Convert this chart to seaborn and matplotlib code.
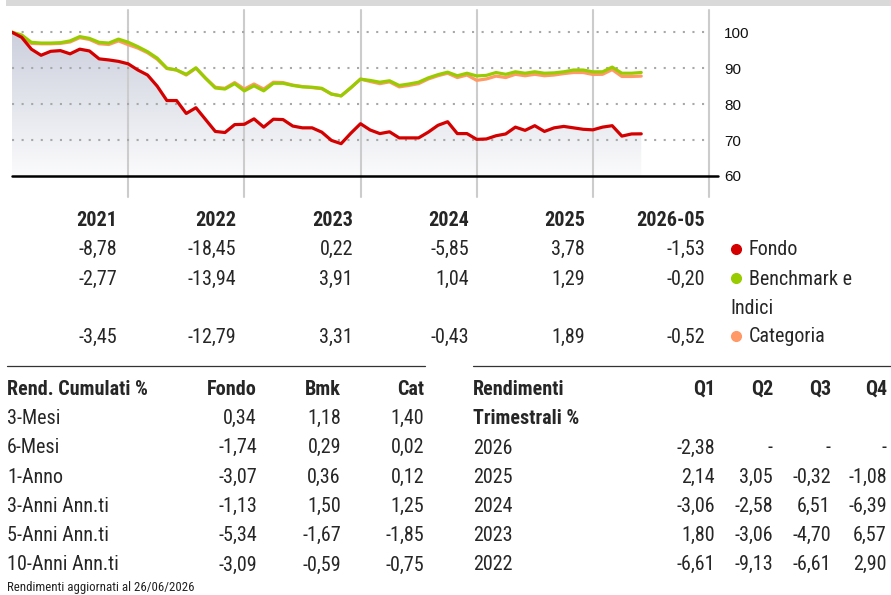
import numpy as np
import pandas as pd
import matplotlib
matplotlib.use("Agg")
import matplotlib.pyplot as plt
import seaborn as sns
from matplotlib.colors import LinearSegmentedColormap
from matplotlib.patches import Rectangle
from matplotlib.lines import Line2D
from matplotlib import font_manager

# ---------------------------------------------------------------- data
# monthly growth of 100 invested, Dec 2020 .. May 2026
fondo = [100.0, 98.6, 95.3, 93.6, 94.7, 94.9, 94.0, 95.3, 94.8, 92.6, 92.3, 91.9,
         91.22, 89.5, 88.1, 85.0, 81.0, 81.0, 77.4, 79.0, 75.7, 72.4, 72.1, 74.3,
         74.39, 75.9, 73.6, 75.8, 75.7, 73.9, 73.4, 73.4, 72.2, 69.9, 69.0, 71.9,
         74.55, 72.8, 71.8, 72.3, 70.6, 70.6, 70.6, 72.2, 74.1, 75.1, 71.8, 71.8,
         70.19, 70.3, 71.2, 71.7, 73.6, 72.7, 74.0, 72.4, 73.4, 73.8, 73.4, 73.0,
         72.84, 73.6, 74.0, 71.1, 71.7, 71.73]
benchmark = [100.0, 99.25, 97.2, 97.0, 97.0, 97.1, 97.6, 98.8, 98.3, 97.2, 97.0, 98.1,
             97.23, 96.0, 94.6, 92.8, 90.0, 89.5, 88.3, 90.1, 87.2, 84.5, 84.2, 85.7,
             83.68, 85.1, 83.7, 85.8, 85.8, 85.2, 84.8, 84.7, 84.4, 82.8, 82.3, 84.6,
             86.95, 86.6, 86.1, 86.5, 85.2, 85.6, 86.1, 87.3, 88.2, 88.9, 87.9, 88.6,
             87.85, 88.0, 88.8, 88.3, 89.0, 88.6, 89.0, 88.6, 88.7, 89.0, 89.5, 89.5,
             88.99, 89.0, 90.3, 88.6, 88.6, 88.81]
categoria = [100.0, 99.0, 96.9, 96.8, 96.8, 96.9, 97.3, 98.5, 98.0, 96.8, 96.6, 97.6,
             96.55, 95.6, 94.3, 92.5, 89.9, 89.5, 88.1, 90.0, 87.2, 84.7, 84.4, 86.0,
             84.20, 85.6, 84.2, 86.1, 86.0, 85.3, 84.9, 84.6, 84.3, 82.8, 82.3, 84.5,
             86.99, 86.3, 85.7, 86.2, 84.8, 85.2, 85.7, 87.0, 87.9, 88.6, 87.4, 88.1,
             86.62, 87.0, 87.8, 87.4, 88.3, 87.9, 88.3, 87.9, 88.1, 88.5, 88.8, 88.8,
             88.26, 88.3, 89.6, 87.7, 87.7, 87.80]

periods = ["2021", "2022", "2023", "2024", "2025", "2026-05"]
annual_fondo = [-8.78, -18.45, 0.22, -5.85, 3.78, -1.53]
annual_bmk = [-2.77, -13.94, 3.91, 1.04, 1.29, -0.20]
annual_cat = [-3.45, -12.79, 3.31, -0.43, 1.89, -0.52]

cum_labels = ["3-Mesi", "6-Mesi", "1-Anno", "3-Anni Ann.ti", "5-Anni Ann.ti", "10-Anni Ann.ti"]
cum_fondo = [0.34, -1.74, -3.07, -1.13, -5.34, -3.09]
cum_bmk = [1.18, 0.29, 0.36, 1.50, -1.67, -0.59]
cum_cat = [1.40, 0.02, 0.12, 1.25, -1.85, -0.75]

q_years = ["2026", "2025", "2024", "2023", "2022"]
q1 = [-2.38, 2.14, -3.06, 1.80, -6.61]
q2 = [None, 3.05, -2.58, -3.06, -9.13]
q3 = [None, -0.32, 6.51, -4.70, -6.61]
q4 = [None, -1.08, -6.39, 6.57, 2.90]

series_names = ["Fondo", "Benchmark e Indici", "Categoria"]
colors = {"Fondo": "#d40000", "Benchmark e Indici": "#99cc00", "Categoria": "#ff9966"}

# ---------------------------------------------------------------- setup
sns.set_theme(style="white")
names = {f.name for f in font_manager.fontManager.ttflist}
NARROW = next((n for n in ["Roboto Condensed", "Liberation Sans Narrow", "Archivo Narrow"]
               if n in names), "DejaVu Sans")
plt.rcParams["font.family"] = ["Liberation Sans", "DejaVu Sans"]

W, H = 891, 595
fig = plt.figure(figsize=(W / 100, H / 100), dpi=100)
fig.patch.set_facecolor("white")


def fx(x):
    return x / W


def fy(y):
    return 1 - y / H


def fmt(v):
    return "-" if v is None else f"{v:.2f}".replace(".", ",")


# top band
fig.patches.append(Rectangle((fx(6), fy(5.5)), 1 - fx(6), 5.5 / H,
                             transform=fig.transFigure, facecolor="#d9d9d9",
                             edgecolor="none"))

# ---------------------------------------------------------------- chart
ax = fig.add_axes([fx(12), fy(197), (709 - 12) / W, 187 / H])
ax.set_facecolor("none")
t = 2021 + np.arange(len(fondo)) / 12.0

df = pd.DataFrame({
    "t": np.concatenate([t, t, t]),
    "valore": np.concatenate([fondo, benchmark, categoria]),
    "serie": np.repeat(series_names, len(t)),
})

# gradient area below the fund line
poly = ax.fill_between(t, fondo, 60, facecolor="none", edgecolor="none")
cmap = LinearSegmentedColormap.from_list("area", ["#fbfbfc", "#ccd0dd"])
grad = np.linspace(0, 1, 256).reshape(-1, 1)
im = ax.imshow(grad, extent=[t[0], t[-1], 60, 100], origin="lower", cmap=cmap,
               aspect="auto", zorder=0.5, interpolation="bicubic")
im.set_clip_path(poly.get_paths()[0], transform=ax.transData)

# year separators
for yr in range(2022, 2028):
    ax.axvline(yr, color="#cccccc", lw=1.5, zorder=1, clip_on=False)

# dotted grid
for lv in [70, 80, 90, 100]:
    ax.plot([2021, 2026.97], [lv, lv], color="#a8a8a8", lw=1.5,
            dashes=(1, 3.6), dash_capstyle="butt", zorder=1)

sns.lineplot(data=df, x="t", y="valore", hue="serie",
             hue_order=["Categoria", "Benchmark e Indici", "Fondo"],
             palette=colors, linewidth=2.3, legend=False, ax=ax, zorder=3)

# baseline at 60
ax.add_line(Line2D([2021, 2027.08], [60, 60], color="black", lw=1.8,
                   clip_on=False, zorder=4))

ax.set_xlim(2021, 2027)
ax.set_ylim(54.15, 106.2)
ax.set_xticks([])
ax.yaxis.tick_right()
ax.set_yticks([60, 70, 80, 90, 100])
ax.tick_params(axis="y", length=0, pad=10.8, labelsize=11, labelcolor="#111111")
ax.set_xlabel("")
ax.set_ylabel("")
for s in ax.spines.values():
    s.set_visible(False)

# ---------------------------------------------------------------- annual table
FS = 14.5
col_right = [117, 236, 353, 469, 585, 705]
for x, p in zip(col_right, periods):
    fig.text(fx(x), fy(226.5), p, ha="right", va="baseline", fontsize=FS,
             fontweight="bold", family=NARROW)
rows = [(255, annual_fondo), (284.5, annual_bmk), (342.5, annual_cat)]
for yb, vals in rows:
    for x, v in zip(col_right, vals):
        fig.text(fx(x), fy(yb), fmt(v), ha="right", va="baseline", fontsize=FS,
                 family=NARROW)

legend_rows = [(255, "Fondo"), (284.5, "Benchmark e"), (342.5, "Categoria")]
for (yb, label), key in zip(legend_rows, series_names):
    fig.add_artist(Line2D([fx(736)], [fy(yb - 6.5)], marker="o", markersize=7,
                          color=colors[key], transform=fig.transFigure, lw=0))
    fig.text(fx(749), fy(yb), label, ha="left", va="baseline", fontsize=FS,
             family=NARROW)
fig.text(fx(730), fy(313.5), "Indici", ha="left", va="baseline", fontsize=FS,
         family=NARROW)

# ---------------------------------------------------------------- cumulative table
fig.add_artist(Line2D([fx(6.7), fx(425)], [fy(366), fy(366)], color="#333333",
                      lw=0.9, transform=fig.transFigure))
fig.text(fx(7), fy(395), "Rend. Cumulati %", ha="left", va="baseline",
         fontsize=FS, fontweight="bold", family=NARROW)
cum_cols = [("Fondo", 257, cum_fondo), ("Bmk", 341, cum_bmk), ("Cat", 424.5, cum_cat)]
for head, x, vals in cum_cols:
    fig.text(fx(x), fy(395), head, ha="right", va="baseline", fontsize=FS,
             fontweight="bold", family=NARROW)
    for i, v in enumerate(vals):
        fig.text(fx(x), fy(424 + i * 29.3), fmt(v), ha="right", va="baseline",
                 fontsize=FS, family=NARROW)
for i, lab in enumerate(cum_labels):
    fig.text(fx(7), fy(424 + i * 29.3), lab, ha="left", va="baseline",
             fontsize=FS, family=NARROW)
fig.text(fx(7), fy(591), "Rendimenti aggiornati al 26/06/2026", ha="left",
         va="baseline", fontsize=9.3, family=NARROW, color="#222222")

# ---------------------------------------------------------------- quarterly table
fig.add_artist(Line2D([fx(472.7), fx(891)], [fy(366), fy(366)], color="#333333",
                      lw=0.9, transform=fig.transFigure))
fig.text(fx(473), fy(395), "Rendimenti", ha="left", va="baseline", fontsize=FS,
         fontweight="bold", family=NARROW)
fig.text(fx(473), fy(424), "Trimestrali %", ha="left", va="baseline", fontsize=FS,
         fontweight="bold", family=NARROW)
q_cols = [("Q1", 715, q1), ("Q2", 773, q2), ("Q3", 831, q3), ("Q4", 887, q4)]
for head, x, vals in q_cols:
    fig.text(fx(x), fy(395), head, ha="right", va="baseline", fontsize=FS,
             fontweight="bold", family=NARROW)
    for i, v in enumerate(vals):
        fig.text(fx(x), fy(453.5 + i * 29.1), fmt(v), ha="right", va="baseline",
                 fontsize=FS, family=NARROW)
for i, yl in enumerate(q_years):
    fig.text(fx(473), fy(453.5 + i * 29.1), yl, ha="left", va="baseline",
             fontsize=FS, family=NARROW)

fig.savefig("out.png", dpi=100, facecolor="white")
